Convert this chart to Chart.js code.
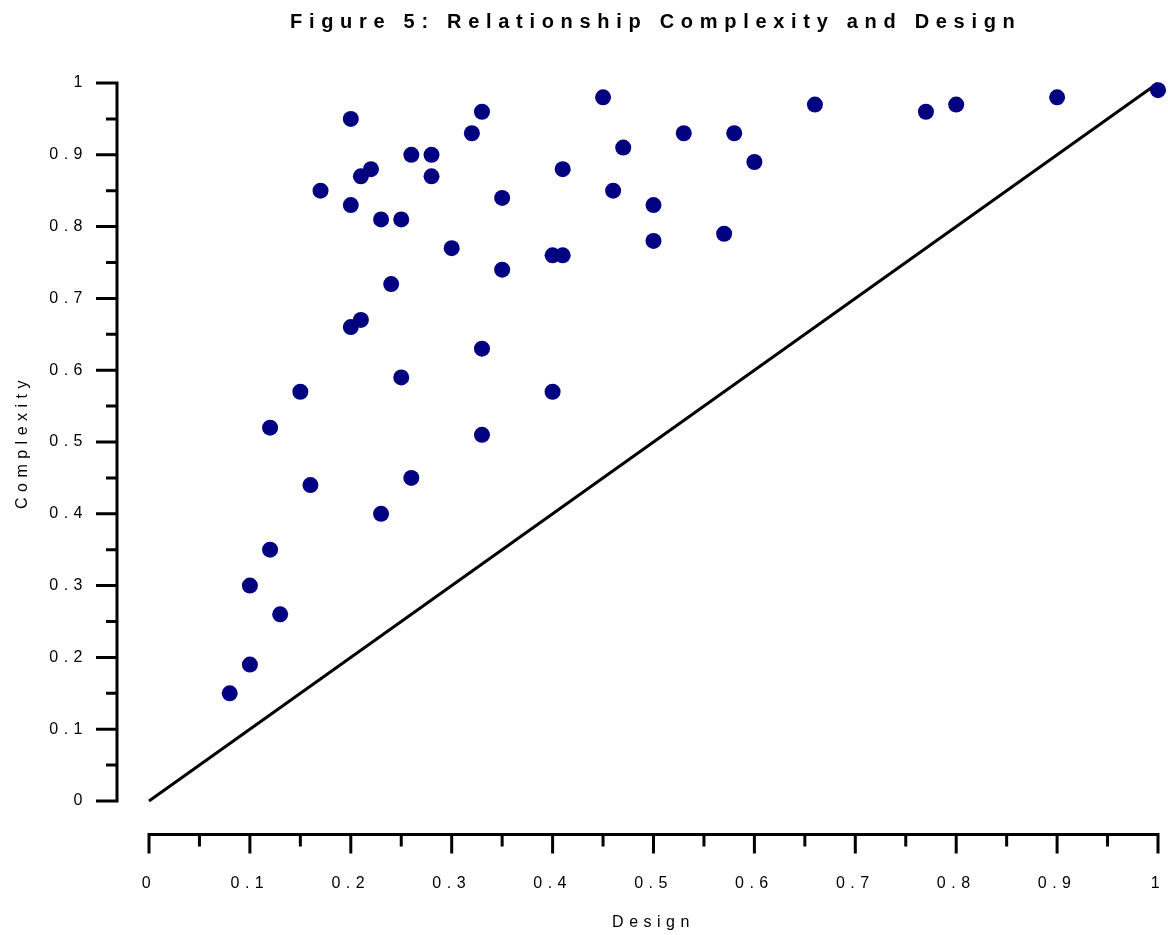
<!DOCTYPE html>
<html>
<head>
<meta charset="utf-8">
<title>Figure 5: Relationship Complexity and Design</title>
<script src="https://cdn.jsdelivr.net/npm/chart.js@4"></script>
<style>
  body { margin: 0; background: #fff; }
  #wrap { position: relative; width: 1168px; height: 935px; }
  #titulo {
    position: absolute; left: 290px; top: 10px;
    font: bold 20px "Liberation Sans", Arial, sans-serif;
    letter-spacing: 6.7px; color: #000; white-space: nowrap;
  }
</style>
</head>
<body>
<div id="wrap">
  <div id="titulo">Figure 5: Relationship Complexity and Design</div>
  <canvas id="grafico" width="1168" height="935"></canvas>
</div>
<script>
// datos
const design = [0.08, 0.10, 0.10, 0.12, 0.13, 0.12, 0.15, 0.16, 0.17, 0.20,
                0.20, 0.20, 0.21, 0.21, 0.22, 0.23, 0.23, 0.24, 0.25, 0.25,
                0.26, 0.26, 0.28, 0.28, 0.30, 0.32, 0.33, 0.33, 0.33, 0.35,
                0.35, 0.40, 0.41, 0.41, 0.40, 0.45, 0.46, 0.47, 0.50, 0.50,
                0.53, 0.57, 0.58, 0.60, 0.66, 0.77, 0.80, 0.90, 1.00];
const complexity = [0.15, 0.19, 0.30, 0.35, 0.26, 0.52, 0.57, 0.44, 0.85, 0.95,
                    0.83, 0.66, 0.67, 0.87, 0.88, 0.81, 0.40, 0.72, 0.81, 0.59,
                    0.90, 0.45, 0.90, 0.87, 0.77, 0.93, 0.96, 0.63, 0.51, 0.84,
                    0.74, 0.76, 0.76, 0.88, 0.57, 0.98, 0.85, 0.91, 0.83, 0.78,
                    0.93, 0.79, 0.93, 0.89, 0.97, 0.96, 0.97, 0.98, 0.99];
const diagonalX = [0, 1];
const diagonalY = [0, 1];

const majorTicks = [0, 0.1, 0.2, 0.3, 0.4, 0.5, 0.6, 0.7, 0.8, 0.9, 1];
const minorTicks = [0.05, 0.15, 0.25, 0.35, 0.45, 0.55, 0.65, 0.75, 0.85, 0.95];

const fuente = { family: '"Liberation Sans", Arial, sans-serif', size: 16 };

// ejes separados del area de datos, como en la figura original
const ejesSeparados = {
    id: 'ejesSeparados',
    beforeDraw(chart) {
        chart.ctx.letterSpacing = '5.5px';
    },
    afterDraw(chart) {
        const { ctx } = chart;
        const sx = chart.scales.x, sy = chart.scales.y;
        const ejeX = sx.getPixelForValue(0) - 32;
        const ejeY = sy.getPixelForValue(0) + 33.5;
        ctx.save();
        ctx.strokeStyle = '#000';
        ctx.lineWidth = 3;
        ctx.lineCap = 'butt';
        ctx.beginPath();
        // eje y
        ctx.moveTo(ejeX, sy.getPixelForValue(0) + 1.5);
        ctx.lineTo(ejeX, sy.getPixelForValue(1) - 1.5);
        majorTicks.forEach(v => {
            const p = sy.getPixelForValue(v);
            ctx.moveTo(ejeX, p); ctx.lineTo(ejeX - 21, p);
        });
        minorTicks.forEach(v => {
            const p = sy.getPixelForValue(v);
            ctx.moveTo(ejeX, p); ctx.lineTo(ejeX - 11, p);
        });
        // eje x
        ctx.moveTo(sx.getPixelForValue(0) - 1.5, ejeY);
        ctx.lineTo(sx.getPixelForValue(1) + 1.5, ejeY);
        majorTicks.forEach(v => {
            const p = sx.getPixelForValue(v);
            ctx.moveTo(p, ejeY); ctx.lineTo(p, ejeY + 19);
        });
        minorTicks.forEach(v => {
            const p = sx.getPixelForValue(v);
            ctx.moveTo(p, ejeY); ctx.lineTo(p, ejeY + 12);
        });
        ctx.stroke();
        ctx.restore();
    }
};

const ctx = document.getElementById('grafico');

new Chart(ctx, {
    type: 'scatter',
    data: {
        datasets: [{
            label: 'Complexity',
            data: design.map((x, i) => ({ x: x, y: complexity[i] })),
            backgroundColor: '#000080',
            borderColor: '#000080',
            pointRadius: 8,
            pointHoverRadius: 8,
            borderWidth: 0,
            clip: false,
            order: 0
        }, {
            type: 'line',
            label: 'Diagonal',
            data: diagonalX.map((x, i) => ({ x: x, y: diagonalY[i] })),
            borderColor: '#000',
            borderWidth: 3,
            pointRadius: 0,
            fill: false,
            clip: false,
            order: 1
        }]
    },
    options: {
        responsive: false,
        animation: false,
        events: [],
        layout: { padding: { top: 83, right: 10, left: 0, bottom: 0 } },
        plugins: {
            legend: { display: false },
            tooltip: { enabled: false }
        },
        scales: {
            x: {
                type: 'linear',
                min: 0,
                max: 1,
                afterBuildTicks: s => { s.ticks = majorTicks.map(v => ({ value: v })); },
                afterFit: s => {
                    s.height = 134;
                    s.paddingLeft = 0;
                    s.paddingRight = 0;
                },
                grid: { display: false, drawTicks: false },
                border: { display: false },
                ticks: {
                    color: '#000',
                    font: fuente,
                    padding: 73,
                    maxRotation: 0,
                    callback: v => String(v)
                },
                title: {
                    display: true,
                    text: 'Design',
                    color: '#000',
                    font: fuente,
                    padding: { top: 0, bottom: 3 }
                }
            },
            y: {
                type: 'linear',
                min: 0,
                max: 1,
                afterBuildTicks: s => { s.ticks = majorTicks.map(v => ({ value: v })); },
                afterFit: s => {
                    s.width = 149;
                    s.paddingTop = 0;
                    s.paddingBottom = 0;
                },
                grid: { display: false, drawTicks: false },
                border: { display: false },
                ticks: {
                    color: '#000',
                    font: fuente,
                    padding: 61,
                    callback: v => String(v)
                },
                title: {
                    display: true,
                    text: 'Complexity',
                    color: '#000',
                    font: fuente,
                    padding: { top: 13, bottom: 0 }
                }
            }
        }
    },
    plugins: [ejesSeparados]
});
</script>
</body>
</html>
